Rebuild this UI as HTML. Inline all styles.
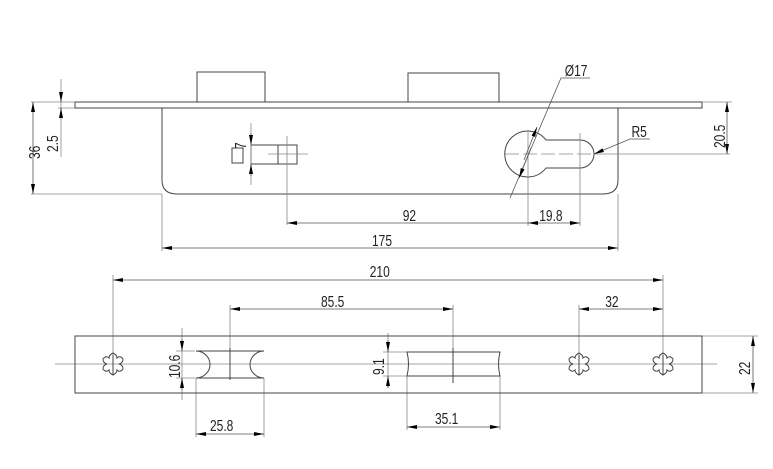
<!DOCTYPE html>
<html><head><meta charset="utf-8"><style>
html,body{margin:0;padding:0;background:#fff;}
svg{display:block}
text{font-family:"Liberation Sans",sans-serif;font-size:16px;fill:#222;}
</style></head><body>
<svg width="773" height="469" viewBox="0 0 773 469" xmlns="http://www.w3.org/2000/svg">
<defs>
<marker id="a" viewBox="0 0 10 4" refX="10" refY="2" markerWidth="10" markerHeight="4" markerUnits="userSpaceOnUse" orient="auto-start-reverse"><path d="M0,0L10,2L0,4z" fill="#000"/></marker>
<g id="s"><path d="M0,-11 Q4,-9 4,-6 Q7,-9 10,-5 Q10,-1 6,0 Q10,1 10,5 Q7,9 4,6 Q4,9 0,11 Q-4,9 -4,6 Q-7,9 -10,5 Q-10,1 -6,0 Q-10,-1 -10,-5 Q-7,-9 -4,-6 Q-4,-9 0,-11Z"/><line x1="0" y1="-9" x2="0" y2="11"/></g>
</defs>
<g fill="none" stroke="#444" stroke-width="1">
<rect x="197" y="72" width="68" height="30"/>
<rect x="408" y="73" width="91" height="29"/>
<rect x="75" y="102" width="627" height="6"/>
<path d="M162,108 V180 Q162,194 177,194 H603 Q618,194 618,180 V108"/>
<rect x="232" y="148" width="11" height="15"/>
<rect x="251" y="145" width="46" height="19"/>
<line x1="278" y1="145" x2="278" y2="164"/>
<path d="M546,140 H580 A14,14 0 0 1 580,168 H546 A23,23 0 1 1 546,140 Z"/>
</g>
<g fill="none" stroke="#888" stroke-width="0.8">
<line x1="268" y1="154" x2="308" y2="154"/>
<line x1="287" y1="136" x2="287" y2="225"/>
<line x1="505" y1="154" x2="594" y2="154" stroke-dasharray="14,4"/>
<line x1="594" y1="154" x2="730" y2="154"/>
<line x1="528" y1="130" x2="528" y2="226"/>
<line x1="580" y1="133" x2="580" y2="226"/>
<line x1="31" y1="102" x2="75" y2="102"/>
<line x1="31" y1="194" x2="162" y2="194"/>
<line x1="58" y1="108" x2="75" y2="108"/>
<line x1="702" y1="102" x2="732" y2="102"/>
<line x1="162" y1="194" x2="162" y2="251"/>
<line x1="618" y1="194" x2="618" y2="251"/>
<line x1="251" y1="123" x2="251" y2="185"/>
<line x1="61" y1="79" x2="61" y2="157"/>
<line x1="113" y1="275" x2="113" y2="364"/>
<line x1="663" y1="275" x2="663" y2="364"/>
<line x1="230" y1="305" x2="230" y2="348"/>
<line x1="453" y1="305" x2="453" y2="348"/>
<line x1="579" y1="305" x2="579" y2="364"/>
<line x1="55" y1="364" x2="717" y2="364"/>
<line x1="702" y1="336" x2="758" y2="336"/>
<line x1="702" y1="393" x2="758" y2="393"/>
<line x1="182" y1="328" x2="182" y2="400"/>
<line x1="176" y1="351" x2="195" y2="351"/>
<line x1="176" y1="378" x2="195" y2="378"/>
<line x1="388" y1="333" x2="388" y2="388"/>
<line x1="383" y1="352" x2="407" y2="352"/>
<line x1="383" y1="376" x2="407" y2="376"/>
<line x1="196" y1="378" x2="196" y2="437"/>
<line x1="264" y1="378" x2="264" y2="437"/>
<line x1="407" y1="376" x2="407" y2="430"/>
<line x1="500" y1="376" x2="500" y2="430"/>
</g>
<g stroke="#555" stroke-width="0.8" fill="none">
<line x1="33" y1="102" x2="33" y2="194" marker-start="url(#a)" marker-end="url(#a)"/>
<line x1="61" y1="92" x2="61" y2="102" marker-end="url(#a)"/>
<line x1="61" y1="118" x2="61" y2="108" marker-end="url(#a)"/>
<line x1="251" y1="133" x2="251" y2="145" marker-end="url(#a)"/>
<line x1="251" y1="176" x2="251" y2="164" marker-end="url(#a)"/>
<line x1="727" y1="102" x2="727" y2="154" marker-start="url(#a)" marker-end="url(#a)"/>
<line x1="287" y1="223" x2="528" y2="223" marker-start="url(#a)"/>
<line x1="528" y1="223" x2="580" y2="223" marker-start="url(#a)" marker-end="url(#a)"/>
<line x1="162" y1="248" x2="618" y2="248" marker-start="url(#a)" marker-end="url(#a)"/>
<path d="M510,198 L561,78 H590"/>
<line x1="524" y1="160" x2="537" y2="127" marker-end="url(#a)"/>
<line x1="531" y1="148" x2="519" y2="178" marker-end="url(#a)"/>
<path d="M650,139 H630 L594,154" marker-end="url(#a)"/>
<line x1="113" y1="280" x2="663" y2="280" marker-start="url(#a)" marker-end="url(#a)"/>
<line x1="230" y1="309" x2="453" y2="309" marker-start="url(#a)" marker-end="url(#a)"/>
<line x1="579" y1="309" x2="663" y2="309" marker-start="url(#a)" marker-end="url(#a)"/>
<line x1="753" y1="336" x2="753" y2="393" marker-start="url(#a)" marker-end="url(#a)"/>
<line x1="182" y1="339" x2="182" y2="351" marker-end="url(#a)"/>
<line x1="182" y1="390" x2="182" y2="378" marker-end="url(#a)"/>
<line x1="388" y1="340" x2="388" y2="352" marker-end="url(#a)"/>
<line x1="388" y1="388" x2="388" y2="376" marker-end="url(#a)"/>
<line x1="196" y1="434" x2="264" y2="434" marker-start="url(#a)" marker-end="url(#a)"/>
<line x1="407" y1="427" x2="500" y2="427" marker-start="url(#a)" marker-end="url(#a)"/>
</g>
<g fill="none" stroke="#444" stroke-width="1">
<rect x="75" y="336" width="627" height="57"/>
<path d="M196,351 H264 A14,13.5 0 0 0 264,378 H196 A14,13.5 0 0 0 196,351 Z"/>
<line x1="230" y1="348" x2="230" y2="380"/>
<path d="M407,352 H500 Q497,364 500,376 H407 Q410,364 407,352 Z"/>
<line x1="453" y1="348" x2="453" y2="383"/>
<use href="#s" x="113" y="364"/>
<use href="#s" x="579" y="364"/>
<use href="#s" x="663" y="364"/>
</g>
<g transform="scale(0.75,1)">
<text x="537" y="221">92</text>
<text x="719" y="221">19.8</text>
<text x="496" y="246">175</text>
<text x="753" y="76">Ø17</text>
<text x="842" y="137">R5</text>
<text x="493" y="277">210</text>
<text x="428" y="307">85.5</text>
<text x="807" y="307">32</text>
<text x="280" y="431">25.8</text>
<text x="580" y="424">35.1</text>
</g>
<g>
<text transform="translate(40,159) rotate(-90) scale(0.75,1)">36</text>
<text transform="translate(58,152) rotate(-90) scale(0.75,1)">2.5</text>
<text transform="translate(246,149) rotate(-90) scale(0.75,1)">7</text>
<text transform="translate(725,148) rotate(-90) scale(0.75,1)">20.5</text>
<text transform="translate(750,375) rotate(-90) scale(0.75,1)">22</text>
<text transform="translate(180,378) rotate(-90) scale(0.75,1)">10.6</text>
<text transform="translate(384,375) rotate(-90) scale(0.75,1)">9.1</text>
</g>
</svg>
</body></html>
